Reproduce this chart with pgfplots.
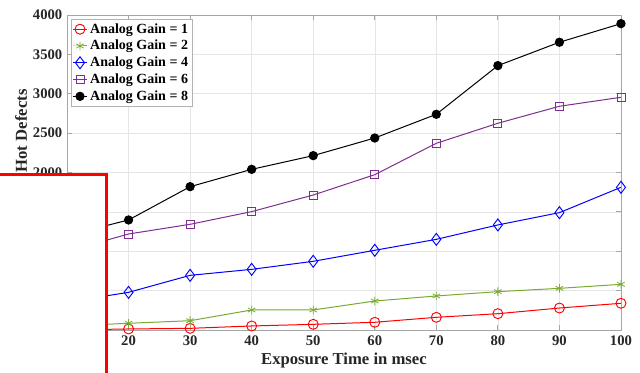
\documentclass[border=0pt]{standalone}
\usepackage{pgfplots}
\pgfplotsset{compat=1.18}
\usepackage{fontspec}
\setmainfont{Liberation Serif}
\definecolor{mgreen}{rgb}{0.47,0.67,0.19}
\definecolor{mpurple}{rgb}{0.49,0.18,0.56}
\definecolor{tickc}{rgb}{0.15,0.15,0.15}
\begin{document}
\begin{tikzpicture}
\begin{axis}[
  at={(0pt,0pt)}, anchor=south west,
  scale only axis, width=415.5pt, height=236.25pt,
  xmin=10, xmax=100, ymin=0, ymax=4000,
  xtick={10,20,...,100}, ytick={0,500,...,4000},
  grid=major, major grid style={gray!20, line width=0.4pt},
  axis line style={gray!70, line width=0.6pt},
  tick style={gray!70, line width=0.6pt}, tick align=inside,
  major tick length=4pt,
  /pgf/number format/assume math mode=true,
  /pgf/number format/1000 sep={},
  tick label style={font=\fontsize{11}{13}\selectfont\bfseries, text=tickc},
  xticklabel style={yshift=-1pt},
  xlabel={Exposure Time in msec}, ylabel={Hot Defects},
  every axis y label/.style={at={(axis description cs:-0.083,0.632)}, rotate=90, anchor=center,
    font=\fontsize{12.5}{14}\selectfont\bfseries, text=tickc},
  every axis x label/.style={at={(axis description cs:0.5,-0.098)}, anchor=center,
    font=\fontsize{12.5}{14}\selectfont\bfseries, text=tickc},
  legend style={at={(axis description cs:0.007,0.987)}, anchor=north west,
    font=\fontsize{10.5}{11.6}\selectfont\bfseries, draw=gray!60, inner sep=1pt,
    row sep=-0.2pt, cells={anchor=west}},
  legend image code/.code={\draw[mark repeat=2,mark phase=2] plot coordinates {(0cm,0cm) (0.185cm,0cm) (0.37cm,0cm)};},
  every axis plot/.append style={line width=0.75pt},
]
\addplot[red, mark=o, mark size=3.75pt, mark options={line width=0.7pt}] coordinates {
(10,0) (20,13) (30,21) (40,51) (50,72) (60,98) (70,161) (80,207) (90,279) (100,339)};
\addlegendentry{Analog Gain = 1}
\addplot[mgreen, mark=asterisk, mark size=3.2pt, mark options={line width=0.6pt}] coordinates {
(10,50) (20,85) (30,118) (40,254) (50,254) (60,368) (70,432) (80,487) (90,529) (100,580)};
\addlegendentry{Analog Gain = 2}
\addplot[blue, mark=diamond, mark size=4.5pt, mark options={line width=0.7pt}] coordinates {
(10,355) (20,478) (30,694) (40,770) (50,872) (60,1012) (70,1151) (80,1334) (90,1490) (100,1812)};
\addlegendentry{Analog Gain = 4}
\addplot[mpurple, mark=square, mark size=3pt, mark options={line width=0.6pt}] coordinates {
(10,1000) (20,1219) (30,1342) (40,1503) (50,1714) (60,1972) (70,2371) (80,2625) (90,2841) (100,2955)};
\addlegendentry{Analog Gain = 6}
\addplot[black, mark=*, mark size=3.1pt] coordinates {
(10,1200) (20,1397) (30,1820) (40,2040) (50,2214) (60,2438) (70,2739) (80,3357) (90,3654) (100,3890)};
\addlegendentry{Analog Gain = 8}
\end{axis}
\draw[red, line width=2.25pt, fill=white] (-70pt,-50pt) rectangle (30pt,116.25pt);
\pgfresetboundingbox
\path[use as bounding box] (-50.25pt,-32.25pt) rectangle (429.75pt,247.5pt);
\end{tikzpicture}
\end{document}
